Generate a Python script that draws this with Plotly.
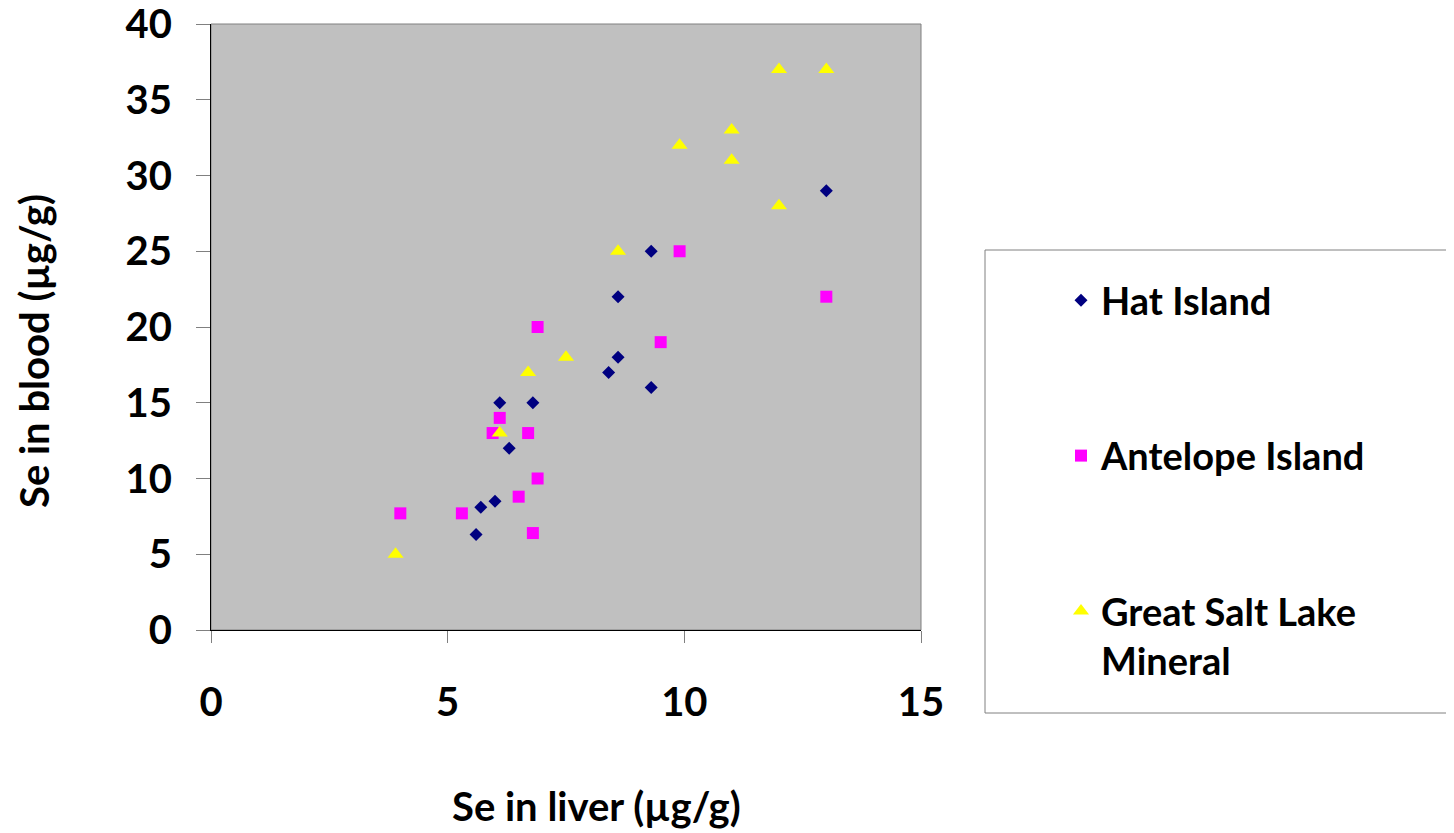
import plotly.graph_objects as go

# Se concentrations (ug/g)
hat_liver = [5.6, 5.7, 6.0, 6.3, 6.1, 6.8, 8.4, 8.6, 8.6, 9.3, 9.3, 13.0]
hat_blood = [6.3, 8.1, 8.5, 12, 15, 15, 17, 18, 22, 16, 25, 29]

ant_liver = [4.0, 5.3, 5.95, 6.1, 6.5, 6.7, 6.8, 6.9, 6.9, 9.5, 9.9, 13.0]
ant_blood = [7.7, 7.7, 13, 14, 8.8, 13, 6.4, 10, 20, 19, 25, 22]

gsl_liver = [3.9, 6.1, 6.7, 7.5, 8.6, 9.9, 11.0, 11.0, 12.0, 12.0, 13.0]
gsl_blood = [5, 13, 17, 18, 25, 32, 33, 31, 28, 37, 37]

names = ["Hat Island", "Antelope Island", "Great Salt Lake<br>Mineral"]

FONT = "Lato"
fsize = 38
tsize = 40

# page body adds an 8px offset; work in screenshot pixels
OFF = 8
l, t, w, h = 211 - OFF, 24 - OFF, 710, 606
W, H = 1454, 833


def px_x(p):
    return (p - OFF - l) / w


def px_y(p):
    return (t + h - (p - OFF)) / h


fig = go.Figure()
fig.add_trace(go.Scatter(x=hat_liver, y=hat_blood, mode="markers", name=names[0],
                         legendgroup="a",
                         marker=dict(symbol="diamond", size=10, color="#000080")))
fig.add_trace(go.Scatter(x=ant_liver, y=ant_blood, mode="markers", name=names[1],
                         legendgroup="b",
                         marker=dict(symbol="square", size=12, color="#FF00FF")))
fig.add_trace(go.Scatter(x=gsl_liver, y=gsl_blood, mode="markers", name=names[2],
                         legendgroup="c",
                         marker=dict(symbol="triangle-up", size=14, color="#FFFF00")))

fig.update_layout(
    width=W, height=H,
    margin=dict(l=l, r=W - l - w, t=t, b=H - t - h, autoexpand=False),
    paper_bgcolor="white",
    plot_bgcolor="#C0C0C0",
    font=dict(family=FONT, size=fsize, color="black", weight="bold"),
    showlegend=True,
    legend=dict(
        x=px_x(1061), y=px_y(269), xanchor="left", yanchor="top",
        bgcolor="rgba(0,0,0,0)", borderwidth=0,
        tracegroupgap=103, valign="top",
        font=dict(family=FONT, size=fsize, weight="bold"),
    ),
    shapes=[
        dict(type="rect", xref="paper", yref="paper", x0=0, x1=1, y0=0, y1=1,
             line=dict(color="#808080", width=1), layer="below"),
        dict(type="rect", xref="paper", yref="paper",
             x0=px_x(985), x1=px_x(1447), y0=px_y(713), y1=px_y(250),
             line=dict(color="#808080", width=1)),
    ],
    annotations=[
        dict(text="Se in liver (µg/g)", xref="paper", yref="paper",
             x=px_x(596), y=px_y(806), xanchor="center", yanchor="middle",
             showarrow=False, font=dict(family=FONT, size=tsize, weight="bold")),
        dict(text="Se in blood (µg/g)", xref="paper", yref="paper",
             x=px_x(34), y=px_y(351), xanchor="center", yanchor="middle",
             showarrow=False, textangle=-90,
             font=dict(family=FONT, size=tsize, weight="bold")),
    ],
)

fig.update_xaxes(range=[0, 15], dtick=5, tick0=0, showgrid=False, zeroline=False,
                 showline=True, linecolor="black", linewidth=1, automargin=False,
                 ticks="outside", ticklen=12, tickcolor="#808080",
                 ticklabelstandoff=25, tickfont=dict(size=tsize))
fig.update_yaxes(range=[0, 40], dtick=5, tick0=0, showgrid=False, zeroline=False,
                 showline=True, linecolor="black", linewidth=1, automargin=False,
                 ticks="outside", ticklen=14, tickcolor="#808080",
                 ticklabelstandoff=16, tickfont=dict(size=tsize),
                 ticklabeloverflow="allow")

fig.write_html("out.html")
